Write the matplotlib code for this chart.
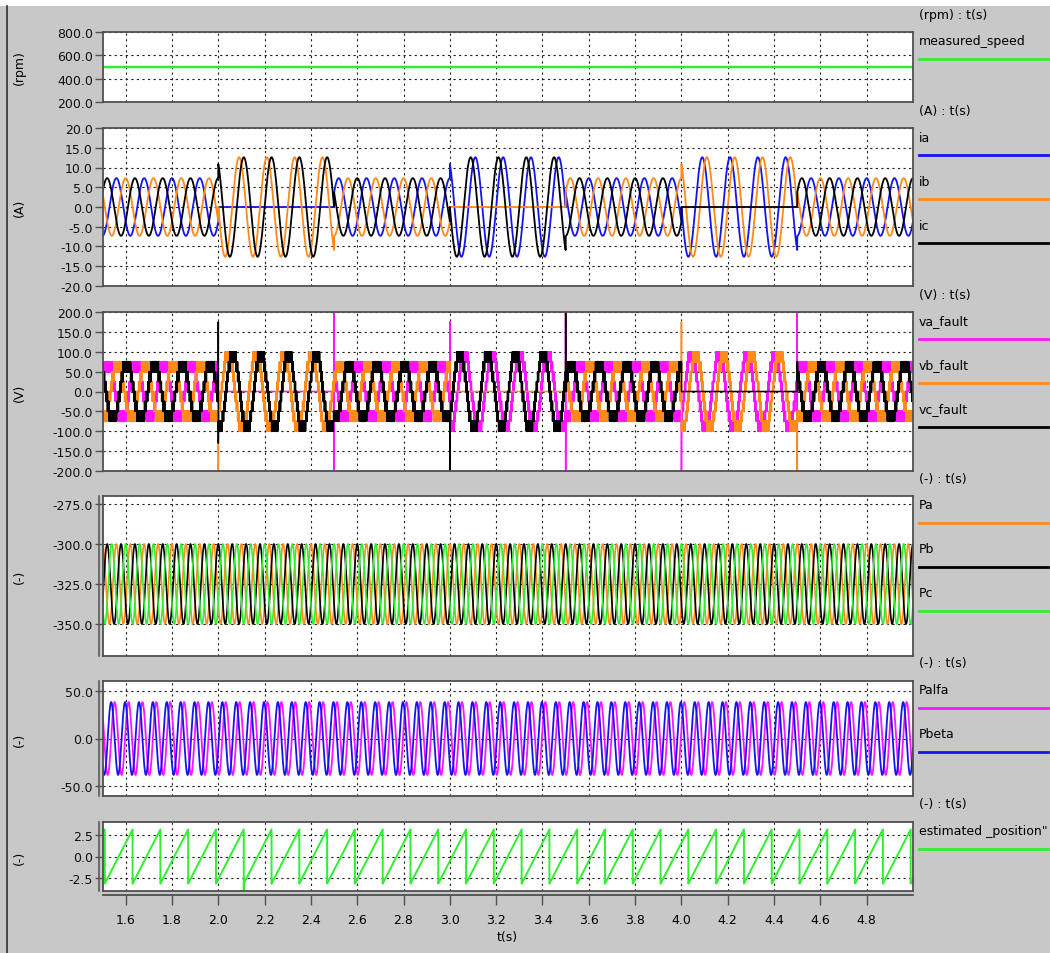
import numpy as np
import matplotlib
matplotlib.use("Agg")
import matplotlib.pyplot as plt
from matplotlib.lines import Line2D
from matplotlib.patches import Rectangle

# --- simulation settings -------------------------------------------------
t_start, t_stop, dt = 1.5, 5.0, 5e-5
speed_rpm = 500.0
pole_pairs = 1
theta_wrap = 1.51            # instant where the estimated angle wraps to -pi

# open-phase faults (0 = a, 1 = b, 2 = c)
fault_start = [2.0, 3.0, 4.0]
fault_end = [2.5, 3.5, 4.5]
fault_phase = [0, 1, 2]

i_amp_normal, i_amp_fault = 7.3, 12.6
v_amp_normal, v_amp_fault, v_level = 75.0, 100.0, 25.0
v_lead_normal, v_lead_fault = 105.0, 140.0      # deg, voltage ahead of current
pwm_freq = 1000.0
p_mean, p_swing = -325.0, 25.0
palfa_amp, pbeta_amp = 38.0, 38.0
palfa_phase = 45.0

# voltage transients when a phase opens / closes: time, phase, high, low
spike_t = [2.0, 2.0, 2.5, 3.0, 3.0, 3.5, 3.5, 4.0, 4.0, 4.5, 4.5]
spike_ph = [2, 1, 0, 0, 2, 0, 2, 1, 0, 0, 1]
spike_hi = [175, None, 200, 175, None, 200, 200, 175, None, 200, None]
spike_lo = [-130, -200, -200, -130, -200, -200, None, None, -200, -200, -200]

# glitch of the position estimate
pos_glitch_t, pos_glitch_val = 2.11, -3.9

# --- signals -------------------------------------------------------------
t = np.arange(t_start, t_stop, dt)
f_e = speed_rpm / 60.0 * pole_pairs
theta = 2 * np.pi * f_e * (t - theta_wrap)
theta_est = np.mod(theta, 2 * np.pi) - np.pi
phi = theta - np.pi + np.pi / 6
offs = np.deg2rad([0.0, -120.0, 120.0])

carrier = np.abs(2 * np.mod(t * pwm_freq, 1.0) - 1)


def pwm_levels(x, amp, c):
    y = np.floor(x / v_level + c) * v_level
    return np.clip(y, -amp, amp)


cur = [i_amp_normal * np.cos(phi + offs[k]) for k in range(3)]
vlt = [pwm_levels(v_amp_normal * np.cos(phi + offs[k] + np.deg2rad(v_lead_normal)),
                  v_amp_normal, carrier) for k in range(3)]

for t0, t1, k in zip(fault_start, fault_end, fault_phase):
    m = (t >= t0) & (t < t1)
    nxt, prv = (k + 1) % 3, (k - 1) % 3
    cur[k][m] = 0.0
    cur[nxt][m] = i_amp_fault * np.cos(phi[m] + offs[nxt] - np.pi / 6)
    cur[prv][m] = i_amp_fault * np.cos(phi[m] + offs[prv] + np.pi / 6)
    vlt[k][m] = 0.0
    lead = np.deg2rad(v_lead_fault)
    for j, sh in ((nxt, -np.pi / 6), (prv, np.pi / 6)):
        x = v_amp_fault * np.cos(phi[m] + offs[j] + sh + lead)
        vlt[j][m] = pwm_levels(x, v_amp_fault, carrier[m])

for ts, k, hi, lo in zip(spike_t, spike_ph, spike_hi, spike_lo):
    n = np.searchsorted(t, ts)
    if hi is not None:
        vlt[k][n + 1] = hi
    if lo is not None:
        vlt[k][n + 3] = lo

pa = p_mean + p_swing * np.cos(2 * phi)
pb = p_mean + p_swing * np.cos(2 * phi - 2 * np.pi / 3)
pc = p_mean + p_swing * np.cos(2 * phi - 4 * np.pi / 3)
psi = 2 * phi + np.deg2rad(palfa_phase)
palfa = palfa_amp * np.cos(psi)
pbeta = pbeta_amp * np.cos(psi + np.pi / 2)

pos = theta_est.copy()
pos[np.searchsorted(t, pos_glitch_t) + 1] = pos_glitch_val
speed = np.full_like(t, speed_rpm)

# --- figure ----------------------------------------------------------------
W, H = 1050, 954
plt.rcParams['font.family'] = 'DejaVu Sans'
plt.rcParams['font.size'] = 9

GREEN, BLUE, ORANGE, MAGENTA, BLACK = '#2ef02e', '#1414f0', '#ff8a1a', '#ff14ff', '#000000'
FRAME = '#505050'

fig = plt.figure(figsize=(W / 100, H / 100), dpi=100, facecolor='#c8c8c8')
fig.patches.append(Rectangle((0, 1 - 7 / H), 1, 7 / H, transform=fig.transFigure,
                             facecolor='white', edgecolor='none'))
fig.lines.append(Line2D([6.5 / W] * 2, [0, 1 - 7 / H], transform=fig.transFigure,
                        color='#303030', lw=1.2))

left, right = 102.5, 913
tops = [33, 129, 313, 497, 682, 823]
bots = [103, 287, 472, 657, 797, 892]

panels = [
    dict(series=[(speed, GREEN, 'measured_speed')], ylim=(200, 800),
         yticks=np.arange(200, 801, 200), unit='(rpm)'),
    dict(series=[(cur[0], BLUE, 'ia'), (cur[1], ORANGE, 'ib'), (cur[2], BLACK, 'ic')],
         ylim=(-20, 20), yticks=np.arange(-20, 21, 5), unit='(A)'),
    dict(series=[(vlt[0], MAGENTA, 'va_fault'), (vlt[1], ORANGE, 'vb_fault'),
                 (vlt[2], BLACK, 'vc_fault')],
         ylim=(-200, 200), yticks=np.arange(-200, 201, 50), unit='(V)'),
    dict(series=[(pa, ORANGE, 'Pa'), (pb, BLACK, 'Pb'), (pc, GREEN, 'Pc')],
         ylim=(-370, -270), yticks=[-350, -325, -300, -275], unit='(-)'),
    dict(series=[(palfa, MAGENTA, 'Palfa'), (pbeta, BLUE, 'Pbeta')],
         ylim=(-60, 60), yticks=[-50, 0, 50], unit='(-)'),
    dict(series=[(pos, GREEN, 'estimated _position"')],
         ylim=(-4, 4), yticks=[-2.5, 0, 2.5], unit='(-)'),
]
lwidths = [1.8, 1.3, 1.1, 1.2, 1.3, 1.4]
xticks = np.round(np.arange(1.6, 4.81, 0.2), 1)

axes = []
for i, p in enumerate(panels):
    top, bot = tops[i], bots[i]
    ax = fig.add_axes([left / W, 1 - bot / H, (right - left) / W, (bot - top) / H])
    ax.set_facecolor('white')
    for y, col, name in p['series']:
        ax.plot(t, y, color=col, lw=lwidths[i])
    ax.set_xlim(t_start, t_stop)
    ax.set_ylim(*p['ylim'])
    ax.set_yticks(p['yticks'])
    ax.set_yticklabels(['%.1f' % v for v in p['yticks']])
    ax.set_xticks(xticks)
    ax.tick_params(axis='x', length=0, labelbottom=False)
    ax.tick_params(axis='y', direction='out', length=6, width=1, pad=1,
                   color=FRAME, labelcolor='#111111', labelsize=9)
    ax.grid(True, color='#202020', linestyle=(0, (2, 3)), linewidth=0.8)
    for s in ax.spines.values():
        s.set_color(FRAME)
        s.set_linewidth(1.3)
    ax.set_ylabel(p['unit'], fontsize=9)
    ax.yaxis.set_label_coords((26 - left) / (right - left), 0.5)
    if i >= 3:
        ax.plot([-3.5 / (right - left)] * 2, [0, 1], transform=ax.transAxes,
                clip_on=False, color=FRAME, lw=1.1)

    # legend column on the right
    header = p['unit'] + ' : t(s)'
    fig.text(919 / W, 1 - (top - 18) / H, header, ha='left', va='center', fontsize=9)
    for j, (y, col, name) in enumerate(p['series']):
        ty = top + 9 + 44 * j
        fig.text(919 / W, 1 - ty / H, name, ha='left', va='center', fontsize=9)
        ly = 1 - (ty + 18) / H
        fig.lines.append(Line2D([919 / W, 1048 / W], [ly, ly], transform=fig.transFigure,
                                color=col, lw=2))
    axes.append(ax)

# time axis under the last panel
ax6 = axes[-1]
sec = ax6.secondary_xaxis(-4 / (bots[-1] - tops[-1]))
sec.set_xticks(xticks)
sec.set_xticklabels(['%.1f' % v for v in xticks])
sec.tick_params(direction='out', length=7, width=1, color=FRAME, labelsize=9, pad=6)
sec.spines['bottom'].set_color(FRAME)
sec.spines['bottom'].set_linewidth(1.3)
fig.text(507 / W, 1 - 938 / H, 't(s)', ha='center', va='center', fontsize=9)

fig.savefig('out.png', dpi=100, facecolor=fig.get_facecolor())
